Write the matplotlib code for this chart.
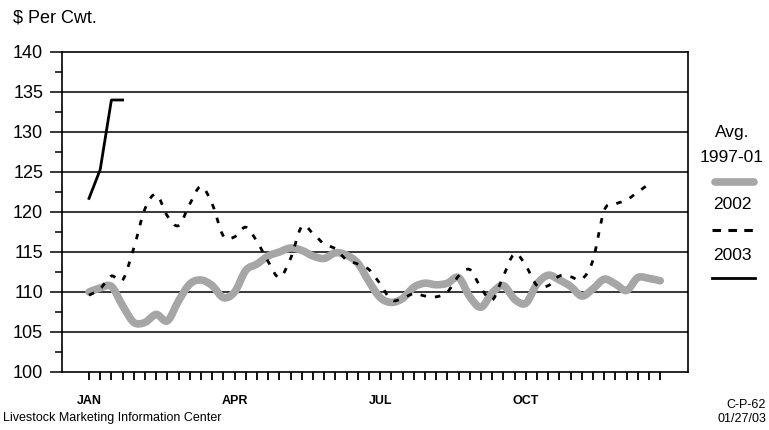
import numpy as np
import matplotlib.pyplot as plt
from matplotlib.lines import Line2D
from matplotlib.path import Path
from matplotlib.patches import PathPatch
from matplotlib.ticker import MultipleLocator

plt.rcParams["font.family"] = ["Liberation Sans", "DejaVu Sans"]

# weekly prices, $ per cwt
weeks = np.arange(52)
avg_1997_01 = [
    110.0, 110.5, 110.7, 108.3, 106.2, 106.2, 107.2, 106.4, 108.9, 111.0,
    111.5, 110.8, 109.3, 110.0, 112.7, 113.5, 114.5, 115.0, 115.5, 115.2,
    114.5, 114.2, 114.9, 114.6, 113.6, 111.3, 109.3, 108.7, 109.2, 110.6,
    111.1, 110.9, 111.1, 111.8, 109.4, 108.1, 109.9, 110.8, 109.1, 108.6,
    111.0, 112.1, 111.5, 110.7, 109.5, 110.4, 111.6, 111.0, 110.2, 111.8,
    111.7, 111.4,
]
y2002 = [
    109.6, 110.4, 112.0, 111.5, 115.5, 120.4, 122.2, 119.5, 118.3, 121.0,
    123.2, 121.0, 117.0, 116.9, 118.1, 116.3, 113.8, 111.8, 114.2, 118.2,
    117.3, 116.0, 115.4, 114.0, 113.5, 112.8, 111.0, 109.0, 109.2, 109.8,
    109.5, 109.4, 110.0, 112.0, 112.8, 110.5, 109.0, 112.0, 114.8, 113.3,
    110.8, 110.8, 112.0, 111.9, 111.6, 114.0, 120.2, 121.0, 121.5, 122.5,
    123.5,
]
y2003 = [121.7, 125.3, 134.0, 134.0]

month_pos = [0, 13, 26, 39]
month_labels = ["JAN", "APR", "JUL", "OCT"]

GRAY = "#a6a6a6"


def smooth_path(xs, ys):
    # excel-style smoothed line: bezier segments through every point
    pts = np.column_stack([xs, ys]).astype(float)
    n = len(pts)
    verts = [pts[0]]
    codes = [Path.MOVETO]
    for i in range(n - 1):
        p0 = pts[max(i - 1, 0)]
        p1 = pts[i]
        p2 = pts[i + 1]
        p3 = pts[min(i + 2, n - 1)]
        c1 = p1 + (p2 - p0) / 6.0
        c2 = p2 - (p3 - p1) / 6.0
        verts += [c1, c2, p2]
        codes += [Path.CURVE4] * 3
    return Path(verts, codes)


fig = plt.figure(figsize=(7.69, 4.30), dpi=100)
ax = fig.add_axes([62 / 769, 1 - 372 / 430, 626 / 769, 320 / 430])

ax.add_patch(PathPatch(smooth_path(weeks, avg_1997_01), fill=False,
                       edgecolor=GRAY, lw=5.5, joinstyle="round",
                       capstyle="round", zorder=3))
ax.add_patch(PathPatch(smooth_path(weeks[:len(y2002)], y2002), fill=False,
                       edgecolor="black", lw=2.0, linestyle=(0, (2.0, 3.2)),
                       zorder=4))
ax.plot(weeks[:len(y2003)], y2003, color="black", lw=2.0, zorder=5)

ax.set_xlim(-2.41, 53.48)
ax.set_ylim(100, 140)

ax.yaxis.set_major_locator(MultipleLocator(5))
ax.yaxis.set_minor_locator(MultipleLocator(2.5))
ax.tick_params(axis="y", which="major", length=8.5, width=1.1,
               labelsize=13, pad=5)
ax.tick_params(axis="y", which="minor", length=5, width=1.1)

ax.set_xticks(weeks)
ax.set_xticklabels(["" for _ in weeks])
ax.tick_params(axis="x", which="major", length=6, width=1.3)
for p, lab in zip(month_pos, month_labels):
    ax.text(p, -0.072, lab, transform=ax.get_xaxis_transform(),
            ha="center", va="top", fontsize=9, fontweight="bold")

for v in range(105, 140, 5):
    ax.axhline(v, color="black", lw=1.1, zorder=2)
for s in ax.spines.values():
    s.set_linewidth(1.2)
    s.set_color("black")

# header and footer texts
fig.text(13 / 769, 1 - 18 / 430, "$ Per Cwt.", fontsize=13,
         ha="left", va="center")
fig.text(3 / 769, 1 - 418 / 430, "Livestock Marketing Information Center",
         fontsize=9, ha="left", va="center")
fig.text(766 / 769, 1 - 405 / 430, "C-P-62", fontsize=9,
         ha="right", va="center")
fig.text(766 / 769, 1 - 419 / 430, "01/27/03", fontsize=9,
         ha="right", va="center")

# legend, stacked text and line samples
lx = 732 / 769
fig.text(lx, 1 - 133 / 430, "Avg.", fontsize=12.5, ha="center", va="center")
fig.text(lx, 1 - 157 / 430, "1997-01", fontsize=12.5, ha="center", va="center")
fig.text(lx, 1 - 205 / 430, "2002", fontsize=12.5, ha="center", va="center")
fig.text(lx, 1 - 255 / 430, "2003", fontsize=12.5, ha="center", va="center")
fig.add_artist(Line2D([715 / 769, 754 / 769], [1 - 182 / 430] * 2,
                      color=GRAY, lw=5.5, solid_capstyle="round"))
fig.add_artist(Line2D([712 / 769, 755 / 769], [1 - 230 / 430] * 2,
                      color="black", lw=2.2, dashes=(2.8, 2.4)))
fig.add_artist(Line2D([712 / 769, 755 / 769], [1 - 278 / 430] * 2,
                      color="black", lw=2.0))

fig.savefig("out.png", dpi=100)
